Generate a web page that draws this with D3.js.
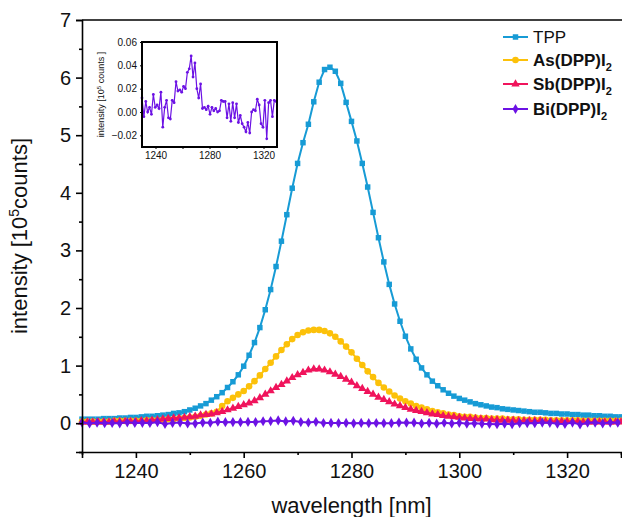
<!DOCTYPE html>
<html>
<head>
<meta charset="utf-8">
<script src="https://cdn.jsdelivr.net/npm/d3@7/dist/d3.min.js"></script>
<style>
  body { margin: 0; background: #fff; }
  svg { display: block; font-family: "Liberation Sans", Arial, sans-serif; }
</style>
</head>
<body>
<script>
// wavelength grid of the three big spectra (1 nm steps) and of the Bi spectrum (~1.4 nm steps)
let wl = [1230,1231,1232,1233,1234,1235,1236,1237,1238,1239,1240,1241,1242,1243,1244,1245,1246,1247,1248,1249,
  1250,1251,1252,1253,1254,1255,1256,1257,1258,1259,1260,1261,1262,1263,1264,1265,1266,1267,1268,1269,
  1270,1271,1272,1273,1274,1275,1276,1277,1278,1279,1280,1281,1282,1283,1284,1285,1286,1287,1288,1289,
  1290,1291,1292,1293,1294,1295,1296,1297,1298,1299,1300,1301,1302,1303,1304,1305,1306,1307,1308,1309,
  1310,1311,1312,1313,1314,1315,1316,1317,1318,1319,1320,1321,1322,1323,1324,1325,1326,1327,1328,1329,1330];

let tpp = [0.07,0.07,0.07,0.07,0.08,0.08,0.08,0.09,0.09,0.10,0.10,0.11,0.12,0.12,0.13,0.14,0.15,0.17,0.18,0.20,
  0.23,0.26,0.30,0.34,0.40,0.46,0.53,0.62,0.72,0.84,0.99,1.18,1.40,1.66,1.97,2.32,2.72,3.16,3.62,4.08,
  4.51,4.87,5.19,5.58,5.92,6.14,6.18,6.11,5.90,5.57,5.24,4.90,4.51,4.10,3.66,3.22,2.80,2.41,2.07,1.77,
  1.51,1.29,1.11,0.96,0.84,0.73,0.65,0.58,0.52,0.47,0.43,0.40,0.37,0.34,0.32,0.30,0.28,0.27,0.25,0.24,
  0.23,0.22,0.21,0.20,0.19,0.19,0.18,0.17,0.17,0.16,0.16,0.15,0.15,0.14,0.14,0.13,0.13,0.12,0.12,0.11,0.11];

let asI2 = [0.03,0.03,0.03,0.03,0.03,0.03,0.04,0.04,0.04,0.04,0.04,0.04,0.05,0.05,0.05,0.06,0.07,0.07,0.08,0.09,
  0.10,0.11,0.13,0.15,0.17,0.20,0.30,0.38,0.44,0.50,0.56,0.64,0.73,0.83,0.94,1.05,1.16,1.27,1.37,1.46,
  1.53,1.58,1.61,1.62,1.62,1.60,1.56,1.50,1.42,1.33,1.23,1.12,1.01,0.90,0.80,0.70,0.62,0.55,0.48,0.43,
  0.38,0.34,0.30,0.27,0.24,0.21,0.19,0.17,0.15,0.14,0.12,0.11,0.11,0.10,0.09,0.09,0.08,0.08,0.08,0.07,
  0.07,0.07,0.06,0.06,0.06,0.06,0.06,0.05,0.05,0.05,0.05,0.05,0.05,0.04,0.04,0.04,0.04,0.04,0.04,0.04,0.04];

let sbI2 = [0.02,0.02,0.02,0.02,0.02,0.02,0.03,0.03,0.03,0.03,0.03,0.04,0.04,0.05,0.06,0.07,0.08,0.09,0.09,0.10,
  0.11,0.12,0.14,0.15,0.16,0.18,0.20,0.23,0.26,0.29,0.32,0.35,0.39,0.44,0.50,0.56,0.62,0.67,0.73,0.79,
  0.84,0.88,0.92,0.94,0.94,0.92,0.89,0.85,0.81,0.76,0.71,0.65,0.60,0.55,0.50,0.45,0.41,0.37,0.33,0.30,
  0.27,0.24,0.22,0.20,0.18,0.16,0.15,0.13,0.12,0.11,0.10,0.09,0.08,0.08,0.07,0.07,0.06,0.06,0.05,0.05,
  0.05,0.04,0.04,0.04,0.04,0.04,0.03,0.03,0.03,0.03,0.03,0.03,0.03,0.02,0.02,0.02,0.02,0.02,0.02,0.02,0.02];

let wlBi = [1230.0,1231.4,1232.8,1234.2,1235.6,1237.0,1238.4,1239.8,1241.2,1242.6,1244.0,1245.4,1246.8,1248.2,1249.6,
  1251.0,1252.4,1253.8,1255.2,1256.6,1258.0,1259.4,1260.8,1262.2,1263.6,1265.0,1266.4,1267.8,1269.2,1270.6,
  1272.0,1273.4,1274.8,1276.2,1277.6,1279.0,1280.4,1281.8,1283.2,1284.6,1286.0,1287.4,1288.8,1290.2,1291.6,
  1293.0,1294.4,1295.8,1297.2,1298.6,1300.0,1301.4,1302.8,1304.2,1305.6,1307.0,1308.4,1309.8,1311.2,1312.6,
  1314.0,1315.4,1316.8,1318.2,1319.6,1321.0,1322.4,1323.8,1325.2,1326.6,1328.0,1329.4];

let biI2 = [0.012,-0.004,0.009,0.000,0.004,-0.002,0.015,0.004,0.006,0.003,0.017,-0.013,0.004,0.010,-0.005,
  -0.006,0.010,0.008,0.026,0.018,0.019,0.017,0.022,0.020,0.034,0.037,0.048,0.030,0.042,0.020,
  0.012,0.024,0.003,0.004,0.002,0.005,-0.002,0.004,0.001,0.003,0.000,0.001,0.010,0.009,0.009,
  -0.005,0.007,-0.008,0.008,-0.005,0.007,-0.009,-0.003,-0.010,-0.013,-0.017,-0.009,-0.018,0.000,0.002,
  0.001,0.011,0.006,-0.010,-0.013,0.010,-0.023,0.008,0.010,-0.004,0.010,0.009];

let xTicks = [1240,1260,1280,1300,1320];
let yTicks = [0,1,2,3,4,5,6,7];
let insetXTicks = [1240,1280,1320];
let insetYTicks = [-0.02,0.00,0.02,0.04,0.06];

let series = [
  {name: "TPP", bold: false, color: "#179bd5", sym: d3.symbolSquare, size: 30, x: wl, y: tpp},
  {name: "As(DPP)I", bold: true, color: "#fcc10a", sym: d3.symbolCircle, size: 34, x: wl, y: asI2},
  {name: "Sb(DPP)I", bold: true, color: "#f0145c", sym: d3.symbolTriangle, size: 30, x: wl, y: sbI2},
  {name: "Bi(DPP)I", bold: true, color: "#6c12e4", sym: d3.symbolDiamond, size: 30, x: wlBi, y: biI2}
];

let W = 622, H = 517;
let margin = {left: 82, right: 1, top: 20, bottom: 65};

let svg = d3.select("body").append("svg").attr("width", W).attr("height", H);

let x = d3.scaleLinear().domain([1230, 1330]).range([margin.left, W - margin.right]);
let y = d3.scaleLinear().domain([-0.5, 7]).range([H - margin.bottom, margin.top]);

let plot = svg.append("g");

// curves
series.forEach((s) => {
  let pts = s.x.map((d, i) => [d, s.y[i]]);
  plot.append("path")
    .attr("d", d3.line().x(d => x(d[0])).y(d => y(d[1]))(pts))
    .attr("fill", "none").attr("stroke", s.color).attr("stroke-width", 2);
  plot.selectAll(null).data(pts).enter().append("path")
    .attr("transform", d => "translate(" + x(d[0]) + "," + y(d[1]) + ")")
    .attr("d", d3.symbol().type(s.sym).size(s.size))
    .attr("fill", s.color);
});

// axes
let xAxis = svg.append("g").attr("transform", "translate(0," + y(-0.5) + ")")
  .call(d3.axisBottom(x).tickValues(xTicks).tickSize(6).tickPadding(6).tickFormat(d3.format("d")));
let xMinor = svg.append("g").attr("transform", "translate(0," + y(-0.5) + ")")
  .call(d3.axisBottom(x).tickValues([1230,1250,1270,1290,1310,1330]).tickSize(3).tickFormat(""));
let yAxis = svg.append("g").attr("transform", "translate(" + x(1230) + ",0)")
  .call(d3.axisLeft(y).tickValues(yTicks).tickSize(6).tickPadding(5).tickFormat(d3.format("d")));
let yMinor = svg.append("g").attr("transform", "translate(" + x(1230) + ",0)")
  .call(d3.axisLeft(y).tickValues([-0.5,0.5,1.5,2.5,3.5,4.5,5.5,6.5]).tickSize(3).tickFormat(""));

[xAxis, xMinor, yAxis, yMinor].forEach(g => {
  g.selectAll("path").attr("stroke", "#000").attr("stroke-width", 1.6);
  g.selectAll("line").attr("stroke", "#000").attr("stroke-width", 1.6);
  g.selectAll("text").attr("font-size", 20).attr("fill", "#111").attr("font-family", "Liberation Sans, Arial, sans-serif");
});
xMinor.select(".domain").remove();
yMinor.select(".domain").remove();

// top border
svg.append("line").attr("x1", x(1230)).attr("x2", W).attr("y1", y(7)).attr("y2", y(7))
  .attr("stroke", "#000").attr("stroke-width", 1.6);

// axis titles
let yt = svg.append("text")
  .attr("transform", "translate(27," + ((y(7) + y(-0.5)) / 2) + ") rotate(-90)")
  .attr("text-anchor", "middle").attr("font-size", 22).attr("fill", "#111");
yt.append("tspan").text("intensity [10");
yt.append("tspan").attr("font-size", 14).attr("dy", -8).text("5");
yt.append("tspan").attr("dy", 8).text("counts]");

svg.append("text").attr("x", (x(1230) + x(1330)) / 2).attr("y", 513)
  .attr("text-anchor", "middle").attr("font-size", 22).attr("fill", "#111")
  .text("wavelength [nm]");

// legend
let legY = [37, 60, 84, 109];
series.forEach((s, i) => {
  let g = svg.append("g").attr("transform", "translate(503," + legY[i] + ")");
  g.append("line").attr("x1", 0).attr("x2", 25).attr("stroke", s.color).attr("stroke-width", 2);
  g.append("path").attr("transform", "translate(12.5,0)")
    .attr("d", d3.symbol().type(s.sym).size(s.size)).attr("fill", s.color);
  let t = g.append("text").attr("x", 30).attr("y", 6).attr("font-size", 17)
    .attr("font-weight", s.bold ? "bold" : "normal").attr("fill", "#111");
  t.append("tspan").text(s.name);
  if (s.bold) t.append("tspan").attr("font-size", 11).attr("dy", 5).text("2");
});

// inset with the Bi spectrum
let ix = d3.scaleLinear().domain([1230, 1330]).range([142, 277]);
let iy = d3.scaleLinear().domain([-0.03, 0.06]).range([147, 42]);
let inset = svg.append("g");
inset.append("rect").attr("x", 142).attr("y", 42).attr("width", 135).attr("height", 105).attr("fill", "#fff");
let bi = series[3];
let biPts = bi.x.map((d, i) => [d, bi.y[i]]);
inset.append("path")
  .attr("d", d3.line().x(d => ix(d[0])).y(d => iy(d[1]))(biPts))
  .attr("fill", "none").attr("stroke", bi.color).attr("stroke-width", 1.2);
inset.selectAll(null).data(biPts).enter().append("circle")
  .attr("cx", d => ix(d[0])).attr("cy", d => iy(d[1])).attr("r", 1.4).attr("fill", bi.color);

let ixAxis = inset.append("g").attr("transform", "translate(0,147)")
  .call(d3.axisBottom(ix).tickValues([1240,1260,1280,1300,1320]).tickSize(2).tickPadding(3)
    .tickFormat(d => insetXTicks.includes(d) ? d : ""));
let iyAxis = inset.append("g").attr("transform", "translate(142,0)")
  .call(d3.axisLeft(iy).tickValues(insetYTicks).tickSize(2).tickPadding(3).tickFormat(d3.format(".2f")));
[ixAxis, iyAxis].forEach(g => {
  g.select(".domain").remove();
  g.selectAll("line").attr("stroke", "#000");
  g.selectAll("text").attr("font-size", 10).attr("fill", "#111").attr("font-family", "Liberation Sans, Arial, sans-serif");
});
inset.append("rect").attr("x", 142).attr("y", 42).attr("width", 135).attr("height", 105)
  .attr("fill", "none").attr("stroke", "#000").attr("stroke-width", 2);

let iyt = inset.append("text")
  .attr("transform", "translate(104,94.5) rotate(-90)")
  .attr("text-anchor", "middle").attr("font-size", 9).attr("fill", "#111");
iyt.append("tspan").text("intensity [10");
iyt.append("tspan").attr("font-size", 6).attr("dy", -3).text("5");
iyt.append("tspan").attr("dy", 3).text(" counts ]");
</script>
</body>
</html>
